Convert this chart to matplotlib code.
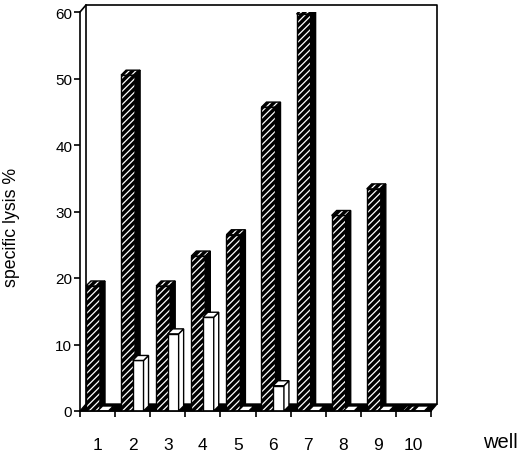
import numpy as np
import matplotlib.pyplot as plt
from matplotlib.patches import Polygon

plt.rcParams['font.family'] = ['Liberation Sans', 'DejaVu Sans']
plt.rcParams['hatch.linewidth'] = 0.9

# Datos
wells = ['1', '2', '3', '4', '5', '6', '7', '8', '9', '10']
dark = [18.8, 50.5, 18.8, 23.3, 26.5, 45.7, 59.7, 29.4, 33.4, 0]
white = [0, 7.6, 11.6, 14.1, 0, 3.8, 0, 0, 0, 0]

# Profundidad (efecto 3D) en unidades de datos
px_x = 351 / 10.0
px_y = 399 / 60.0
bdx, bdy = 5 / px_x, 5 / px_y     # profundidad de barra
fdx, fdy = 6 / px_x, 7 / px_y     # profundidad del piso / pared


def bar3d(ax, x0, w, h, kind):
    front = [(x0, 0), (x0 + w, 0), (x0 + w, h), (x0, h)]
    top = [(x0, h), (x0 + w, h), (x0 + w + bdx, h + bdy), (x0 + bdx, h + bdy)]
    side = [(x0 + w, 0), (x0 + w + bdx, bdy), (x0 + w + bdx, h + bdy), (x0 + w, h)]
    if kind == 'dark':
        faces = [(front, 'hatch'), (side, 'black'), (top, 'hatch')] if h > 0 else [(top, 'hatch')]
    else:
        faces = [(front, 'white'), (side, 'white'), (top, 'white')] if h > 0 else [(top, 'white')]
    for pts, style in faces:
        if style == 'hatch':
            ax.add_patch(Polygon(pts, closed=True, fc='black', ec='white', hatch='/////', lw=0, zorder=3))
            ax.add_patch(Polygon(pts, closed=True, fill=False, ec='black', lw=1, zorder=3))
        else:
            ax.add_patch(Polygon(pts, closed=True, fc=style, ec='black', lw=1, zorder=3))


fig = plt.figure(figsize=(5.2, 4.52), dpi=100)
ax = fig.add_axes([80 / 520, 40 / 452, 351 / 520, 399 / 452])
ax.set_xlim(0, 10)
ax.set_ylim(0, 60)

# piso negro
ax.add_patch(Polygon([(0, 0), (10, 0), (10 + fdx, fdy), (fdx, fdy)], closed=True,
                     fc='black', ec='black', lw=1, zorder=2, clip_on=False))

# pared del fondo
kw = dict(color='black', lw=1.2, clip_on=False, zorder=1)
ax.plot([0, fdx, 10 + fdx, 10 + fdx], [60, 60 + fdy, 60 + fdy, fdy], **kw)
ax.plot([fdx, fdx], [fdy, 60 + fdy], **kw)

for i in range(len(wells)):
    bar3d(ax, i + 0.17, 0.40, dark[i], 'dark')
for i in range(len(wells)):
    bar3d(ax, i + 0.50, 0.31, white[i], 'white')

for s in ['top', 'right']:
    ax.spines[s].set_visible(False)
ax.spines['left'].set_linewidth(1.2)
ax.spines['bottom'].set_linewidth(1.2)
ax.spines['left'].set_zorder(5)
ax.spines['bottom'].set_zorder(5)

ax.set_yticks(np.arange(0, 61, 10))
ax.tick_params(axis='y', length=4.5, width=1.2, pad=1, labelsize=11)
ax.set_xticks(np.arange(0, 11))
ax.set_xticklabels([])
ax.set_xticks(np.arange(10) + 0.5, minor=True)
ax.set_xticklabels(wells, minor=True)
ax.tick_params(axis='x', which='major', length=4, width=1.2)
ax.tick_params(axis='x', which='minor', length=0, pad=19, labelsize=12.5)

fig.text(12 / 520, 1 - 227 / 452, 'specific lysis %', rotation=90,
         ha='center', va='center', fontsize=12.8)
fig.text(500 / 520, 1 - 443 / 452, 'well', ha='center', va='center', fontsize=14.5)

fig.savefig('out.png', dpi=100)
